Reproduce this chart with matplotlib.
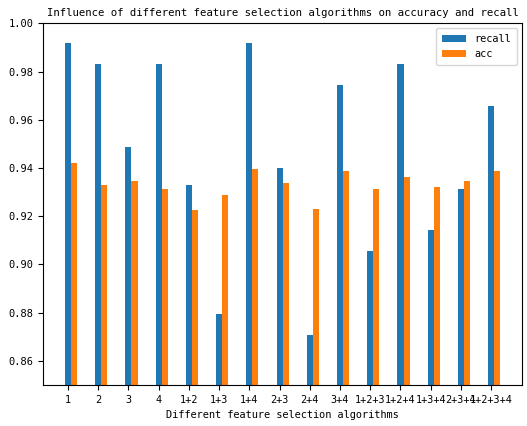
import numpy as np
import matplotlib
matplotlib.use('Agg')
import matplotlib.pyplot as plt

plt.rcParams['font.family'] = ['DejaVu Sans Mono']
plt.rcParams['font.size'] = 7.5
plt.rcParams['axes.unicode_minus'] = False

# data
labels = ['1', '2', '3', '4', '1+2', '1+3', '1+4', '2+3', '2+4', '3+4',
          '1+2+3', '1+2+4', '1+3+4', '2+3+4', '1+2+3+4']
recall = [0.9917, 0.9831, 0.9485, 0.9831, 0.9329, 0.8795, 0.9917, 0.9398,
          0.8709, 0.9744, 0.9054, 0.9831, 0.9141, 0.9313, 0.9658]
acc = [0.9422, 0.9329, 0.9346, 0.9312, 0.9226, 0.9287, 0.9397, 0.9339,
       0.9228, 0.9389, 0.9313, 0.9364, 0.9321, 0.9346, 0.9389]

x = np.arange(len(labels))
w = 0.2

fig = plt.figure(figsize=(5.27, 4.26), dpi=100)
ax = fig.add_axes([0.082, 0.0962, 0.9085, 0.8491])
ax.bar(x, recall, width=w, color='#1f77b4', label='recall')
ax.bar(x + w, acc, width=w, color='#ff7f0e', label='acc')

ax.set_xticks(x)
ax.set_xticklabels(labels, fontsize=7.3)
ax.tick_params(axis='y', labelsize=7.5)
ax.set_ylim(0.85, 1.0)
ax.set_title('Influence of different feature selection algorithms on accuracy and recall',
             fontsize=7.7, pad=5)
ax.set_xlabel('Different feature selection algorithms', fontsize=7.4)
ax.legend(loc='upper right', fontsize=7.4, handlelength=2.4, borderpad=0.55,
          labelspacing=0.5)

fig.savefig('out.png', dpi=100)
